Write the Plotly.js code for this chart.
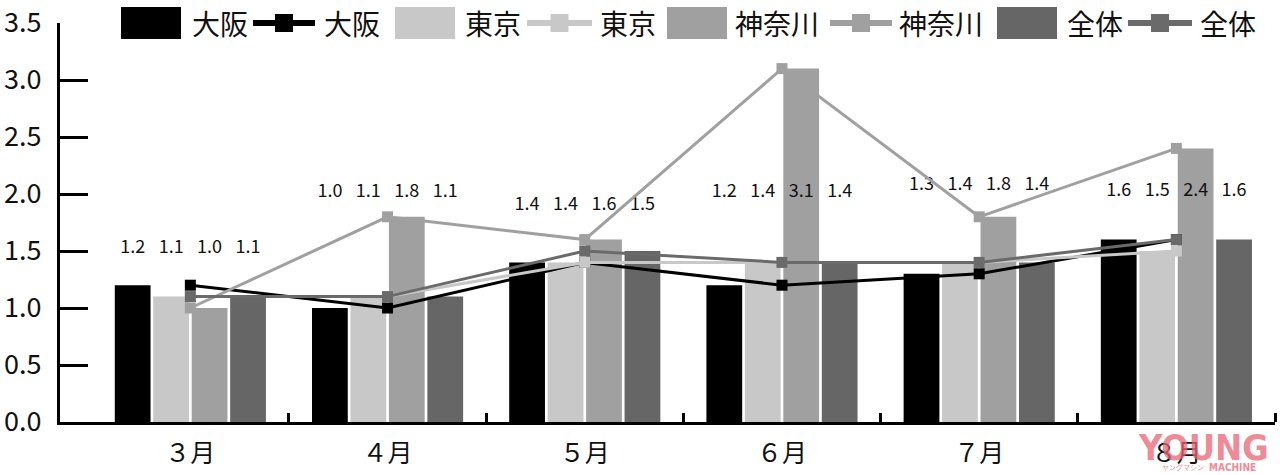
<!DOCTYPE html>
<html>
<head>
<meta charset="utf-8">
<script src="https://cdn.plot.ly/plotly-3.0.1.min.js"></script>
<style>
  html, body { margin: 0; padding: 0; background: #fff; }
  #chart { width: 1280px; height: 475px; }
</style>
</head>
<body>
<div id="chart"></div>
<script>
// data
const months = ['３月', '４月', '５月', '６月', '７月', '８月']
const series = ['大阪', '東京', '神奈川', '全体']
const osaka = [1.2, 1.0, 1.4, 1.2, 1.3, 1.6]
const tokyo = [1.1, 1.1, 1.4, 1.4, 1.4, 1.5]
const kanagawa = [1.0, 1.8, 1.6, 3.1, 1.8, 2.4]
const zentai = [1.1, 1.1, 1.5, 1.4, 1.4, 1.6]
// height at which the value labels float per month
const labelLevel = [1.41, 1.9, 1.79, 1.9, 1.96, 1.91]

const values = [osaka, tokyo, kanagawa, zentai]
const barColors = ['#000000', '#c8c8c8', '#a0a0a0', '#666666']
const lineColors = ['#000000', '#c8c8c8', '#a0a0a0', '#6a6a6a']
const FONT = '"Noto Sans CJK JP", "Noto Sans", sans-serif'

const xs = months.map((m, i) => i)
let traces = []

// bars
values.forEach((v, s) => {
    traces.push({
        type: 'bar',
        x: xs,
        y: v,
        offsetgroup: String(s),
        marker: { color: barColors[s], line: { width: 0 } },
        name: series[s],
        showlegend: false,
        hoverinfo: 'skip'
    })
})

// value labels, sitting in the same slot as their bar
values.forEach((v, s) => {
    traces.push({
        type: 'bar',
        x: xs,
        y: v.map(() => 0.001),
        base: labelLevel,
        offsetgroup: String(s),
        marker: { color: 'rgba(0,0,0,0)' },
        text: v.map(d => d.toFixed(1)),
        textposition: 'outside',
        constraintext: 'none',
        cliponaxis: false,
        textfont: { family: FONT, size: 18, color: '#111' },
        showlegend: false,
        hoverinfo: 'skip'
    })
})

// lines
values.forEach((v, s) => {
    traces.push({
        type: 'scatter',
        mode: 'lines+markers',
        x: xs,
        y: v,
        line: { color: lineColors[s], width: 3 },
        marker: { symbol: 'square', size: 11, color: lineColors[s] },
        name: series[s],
        showlegend: false,
        hoverinfo: 'skip'
    })
})

// plot area in pixels, used for the hand made legend
const L = 60, R = 1275, T = 23, B = 422
const px = x => (x - L) / (R - L)
const py = y => (B - y) / (B - T)

let shapes = []
let annotations = []
// [bar swatch left, bar text left, line left, line right, line text left]
const legendPos = [
    [121, 190, 253, 315, 322],
    [395, 463, 527, 592, 598],
    [667, 733, 830, 892, 897],
    [997, 1065, 1128, 1192, 1198]
]
legendPos.forEach((p, s) => {
    shapes.push({
        type: 'rect', xref: 'paper', yref: 'paper',
        x0: px(p[0]), x1: px(p[0] + 60), y0: py(39), y1: py(7),
        fillcolor: barColors[s], line: { width: 0 }
    })
    shapes.push({
        type: 'line', xref: 'paper', yref: 'paper',
        x0: px(p[2]), x1: px(p[3]), y0: py(23), y1: py(23),
        line: { color: lineColors[s], width: 6 }
    })
    let mid = (p[2] + p[3]) / 2
    shapes.push({
        type: 'rect', xref: 'paper', yref: 'paper',
        x0: px(mid - 9), x1: px(mid + 9), y0: py(32), y1: py(14),
        fillcolor: lineColors[s], line: { width: 0 }
    })
    annotations.push({
        xref: 'paper', yref: 'paper', x: px(p[1]), y: py(23),
        xanchor: 'left', yanchor: 'middle', showarrow: false,
        text: series[s], font: { family: FONT, size: 28, color: '#111' }
    })
    annotations.push({
        xref: 'paper', yref: 'paper', x: px(p[4]), y: py(23),
        xanchor: 'left', yanchor: 'middle', showarrow: false,
        text: series[s], font: { family: FONT, size: 28, color: '#111' }
    })
})

// watermark
const PINK = 'rgba(234,100,116,0.75)'
annotations.push({
    xref: 'paper', yref: 'paper', x: px(1203), y: py(448),
    xanchor: 'center', yanchor: 'middle', showarrow: false,
    text: '<b>YOUNG</b>',
    font: { family: '"DejaVu Sans Condensed", "DejaVu Sans", sans-serif', size: 36, color: PINK }
})
annotations.push({
    xref: 'paper', yref: 'paper', x: px(1232), y: py(467),
    xanchor: 'center', yanchor: 'middle', showarrow: false,
    text: '<b>MACHINE</b>',
    font: { family: '"DejaVu Sans Condensed", "DejaVu Sans", sans-serif', size: 10, color: PINK }
})
annotations.push({
    xref: 'paper', yref: 'paper', x: px(1183), y: py(467),
    xanchor: 'center', yanchor: 'middle', showarrow: false,
    text: 'ヤングマシン',
    font: { family: FONT, size: 7, color: PINK }
})

const layout = {
    width: 1280,
    height: 475,
    margin: { l: L, r: 1280 - R, t: T, b: 475 - B },
    paper_bgcolor: '#fff',
    plot_bgcolor: '#fff',
    barmode: 'group',
    bargap: 0.22,
    bargroupgap: 0.07,
    showlegend: false,
    hovermode: false,
    font: { family: FONT, color: '#111' },
    xaxis: {
        range: [-0.661, 5.5],
        tickmode: 'array',
        tickvals: xs,
        ticktext: months,
        ticks: '',
        ticklabelstandoff: 7,
        tickfont: { family: FONT, size: 25, color: '#111' },
        showline: true,
        linecolor: '#000',
        linewidth: 3,
        showgrid: false,
        zeroline: false,
        minor: {
            tickmode: 'array',
            tickvals: [0.5, 1.5, 2.5, 3.5, 4.5, 5.5],
            ticks: 'inside',
            ticklen: 9,
            tickwidth: 3,
            tickcolor: '#000',
            showgrid: false
        }
    },
    yaxis: {
        range: [0, 3.5],
        dtick: 0.5,
        tickformat: '.1f',
        ticks: 'inside',
        ticklen: 28,
        tickwidth: 3,
        tickcolor: '#000',
        ticklabelstandoff: 10,
        tickfont: { family: FONT, size: 27, color: '#111' },
        showline: true,
        linecolor: '#000',
        linewidth: 3,
        showgrid: false,
        zeroline: false
    },
    shapes: shapes,
    annotations: annotations
}

Plotly.newPlot('chart', traces, layout, { displayModeBar: false, staticPlot: true })
</script>
</body>
</html>
